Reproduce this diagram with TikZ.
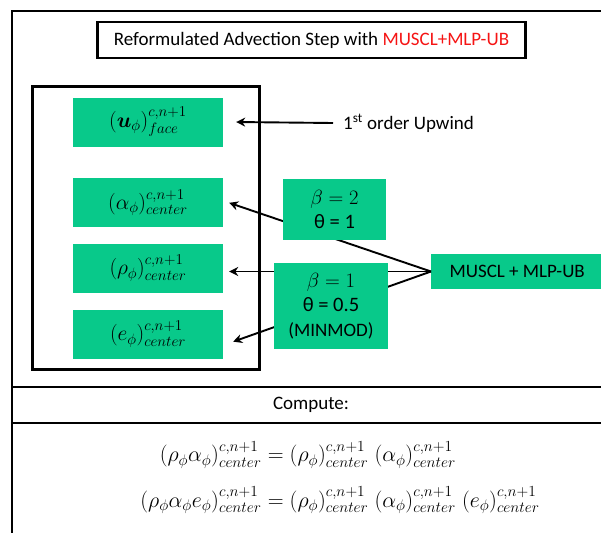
\documentclass[tikz,border=0pt]{standalone}
\usepackage{fix-cm}
\usepackage{amsmath}
\usepackage{amssymb}
\usepackage{fontspec}
\setmainfont{Carlito}
\usepackage{tikz}
\usetikzlibrary{arrows,%
                arrows.meta,%
                petri,%
                calc,%
                positioning}

\definecolor{stepgreen}{RGB}{8,201,138}
\definecolor{stepred}{RGB}{245,20,20}

\begin{document}
\begin{tikzpicture}[x=1pt,y=-1pt]
		\useasboundingbox (0,0) rectangle (601,532);
		\clip (0,0) rectangle (601,532);
		\tikzstyle{FrameStyle}=[draw=black,line width=2.6pt]
		\tikzstyle{GreenStyle}=[fill=stepgreen,inner sep=0pt]
		\tikzstyle{TextStyle}=[font=\fontsize{19}{24.5}\selectfont]
		%\draw[help lines] (0,0) grid[step=50] (601,532);
		\draw[FrameStyle] (12,11) rectangle (620,560);
		\draw[FrameStyle] (12,387) -- (620,387);
		\draw[FrameStyle] (12,423) -- (620,423);
		\draw[line width=3pt] (32,87) rectangle (259,369);
		\node[FrameStyle,TextStyle,minimum width=428pt,minimum height=36pt] (Title) at (311.5,40)
			{Reformulated Advection Step with \textcolor{stepred}{MUSCL+MLP-UB}};
		{
			\tikzset{GreenStyle/.append style = {minimum width=150pt,minimum height=49pt,font=\fontsize{21.5}{25}\selectfont}}
			\node[GreenStyle] (U) at (148,122) {$(\boldsymbol{u}_\phi)^{c,n+1}_{face}$};
			\node[GreenStyle] (Alpha) at (148,202.5) {$(\alpha_\phi)^{c,n+1}_{center}$};
			\node[GreenStyle] (Rho) at (148,268) {$(\rho_\phi)^{c,n+1}_{center}$};
			\node[GreenStyle] (E) at (148,334) {$(e_\phi)^{c,n+1}_{center}$};
		}
		\node[GreenStyle,TextStyle,minimum width=172pt,minimum height=35pt,anchor=west] (MUSCL) at (431,271.5) {MUSCL + MLP-UB};
		\node[TextStyle,inner sep=0pt,anchor=west] (Upwind) at (343,123) {1\textsuperscript{st} order Upwind};
		\tikzstyle{EdgeStyle}=[post,line width=1.9pt,>={Stealth[length=9pt,width=9pt]}]
		\draw[EdgeStyle] ($(Upwind.west)+(-10,0)$) -- ($(U.east)+(12,0)$);
		\draw[EdgeStyle] (MUSCL.west) -- ($(Alpha.east)+(5,0)$);
		\draw[EdgeStyle] (MUSCL.west) -- ($(MUSCL.west -| Rho.east)+(5,0)$);
		\draw[EdgeStyle] (MUSCL.west) -- ($(E.east)+(9,8)$);
		{
			\tikzset{GreenStyle/.append style = {TextStyle,align=center,font=\fontsize{20.5}{24.5}\selectfont}}
			\node[GreenStyle,minimum width=103pt,minimum height=61pt] (BetaA) at (334.5,209.5)
				{$\beta = 2$\\θ = 1};
			\node[GreenStyle,minimum width=114pt,minimum height=86pt] (BetaB) at (331,306)
				{$\beta = 1$\\θ = 0.5\\{\fontsize{19}{24.5}\selectfont(MINMOD)}};
		}
		\node[TextStyle] (Compute) at (311,405) {Compute:};
		\node[font=\fontsize{22}{26}\selectfont] (Eqs) at (340,478) {$\begin{aligned}
			(\rho_\phi\alpha_\phi)^{c,n+1}_{center} &= (\rho_\phi)^{c,n+1}_{center}\;(\alpha_\phi)^{c,n+1}_{center}\\[13pt]
			(\rho_\phi\alpha_\phi e_\phi)^{c,n+1}_{center} &= (\rho_\phi)^{c,n+1}_{center}\;(\alpha_\phi)^{c,n+1}_{center}\;(e_\phi)^{c,n+1}_{center}
		\end{aligned}$};
	\end{tikzpicture}
\end{document}
